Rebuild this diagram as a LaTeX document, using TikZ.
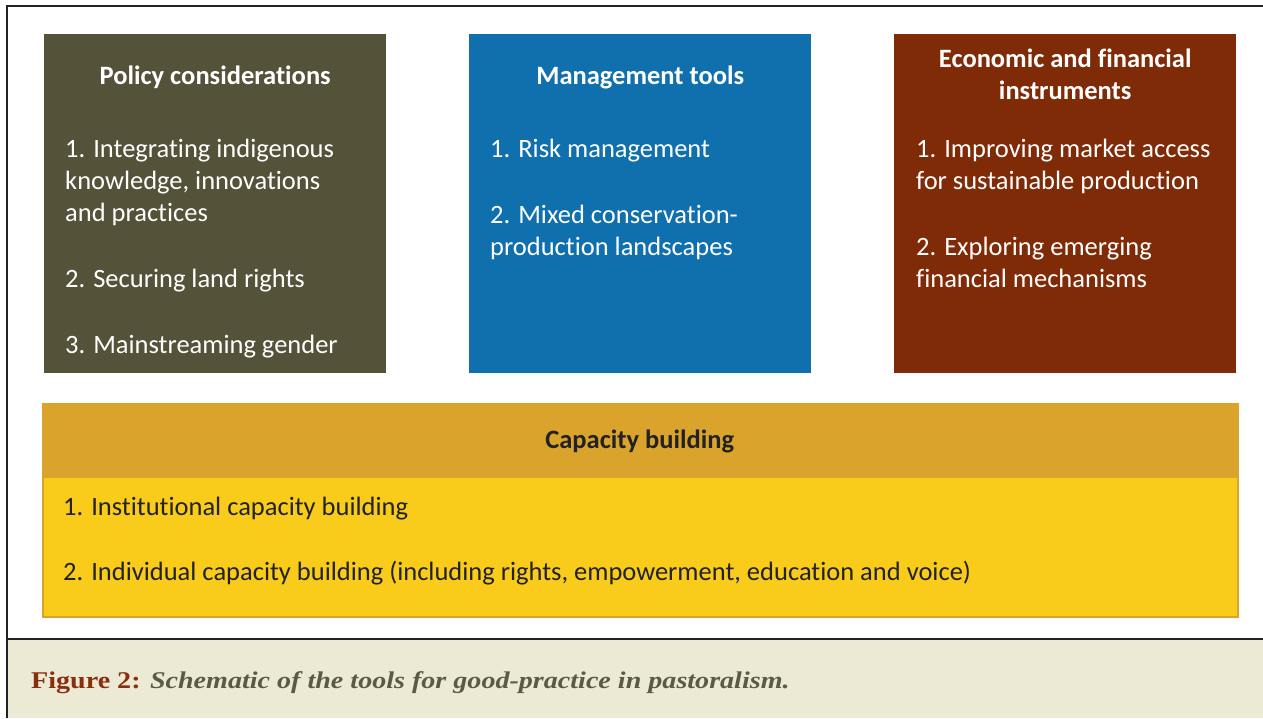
\documentclass[tikz,border=0pt]{standalone}
\usepackage{fontspec}
\setmainfont{Carlito}[Ligatures=NoCommon]
\newfontfamily\capfont{Liberation Serif}[FakeStretch=1.17]
\usetikzlibrary{positioning}

\definecolor{policycol}{RGB}{85,82,58}
\definecolor{managecol}{RGB}{16,112,174}
\definecolor{econcol}{RGB}{127,43,8}
\definecolor{caphead}{RGB}{218,163,43}
\definecolor{capbody}{RGB}{249,203,27}
\definecolor{capbg}{RGB}{236,234,213}
\definecolor{framecol}{RGB}{34,34,34}
\definecolor{figred}{RGB}{138,46,14}
\definecolor{capgrey}{RGB}{91,90,67}

\tikzset{
  box/.style={rectangle, anchor=north west, minimum width=342pt, minimum height=339pt, inner sep=0pt},
  headtext/.style={text=white, font=\fontsize{26.5}{32}\selectfont\bfseries, align=center, inner sep=0pt},
  listtext/.style={text=white, anchor=north west, font=\fontsize{26.5}{32}\selectfont, align=left, inner sep=0pt}
}

\begin{document}
\begin{tikzpicture}[x=1pt, y=-1pt]
    \useasboundingbox (0,0) rectangle (1263,718);
    \fill[capbg] (7,639) rectangle (1263,718);
    \draw[line width=2.5pt, framecol] (1263,6) -- (7,6) -- (7,718);
    \draw[line width=2.5pt, framecol] (7,639) -- (1263,639);

    \node at (44,34) [box, fill=policycol] (policy) {};
    \node at (469,34) [box, fill=managecol] (manage) {};
    \node at (894,34) [box, fill=econcol] (econ) {};
    \node at (42,403) [box, fill=capbody, draw=caphead, line width=1.5pt, minimum width=1195pt, minimum height=213pt] (capacity) {};
    \node at (capacity.north west) [box, fill=caphead, minimum width=1195pt, minimum height=75pt] (capacityhead) {};

    \node at ([yshift=-43pt]policy.north) [headtext] (policytitle) {Policy considerations};
    \node at ([yshift=-43pt]manage.north) [headtext] (managetitle) {Management tools};
    \node at ([yshift=-40pt]econ.north) [headtext] (econtitle) {Economic and financial\\instruments};
    \node at ([yshift=-1pt]capacityhead.center) [headtext, text=framecol] (capacitytitle) {Capacity building};

    \node at ([shift={(21,105)}]policy.north west) [listtext] (policylist)
        {1. Integrating indigenous\\knowledge, innovations\\and practices\\[34pt]2. Securing land rights\\[34pt]3. Mainstreaming gender};
    \node at ([shift={(21,105)}]manage.north west) [listtext] (managelist)
        {1. Risk management\\[34pt]2. Mixed conservation-\\production landscapes};
    \node at ([shift={(22,105)}]econ.north west) [listtext] (econlist)
        {1. Improving market access\\for sustainable production\\[34pt]2. Exploring emerging\\financial mechanisms};
    \node at ([shift={(21,94)}]capacity.north west) [listtext, text=framecol] (capacitylist)
        {1. Institutional capacity building\\[33pt]2. Individual capacity building (including rights, empowerment, education and voice)};

    \node at (31,683) [anchor=west, inner sep=0pt] (caption)
        {\capfont\fontsize{24}{28}\selectfont\bfseries\textcolor{figred}{Figure 2:} \textcolor{capgrey}{\itshape Schematic of the tools for good-practice in pastoralism.}};
\end{tikzpicture}
\end{document}
